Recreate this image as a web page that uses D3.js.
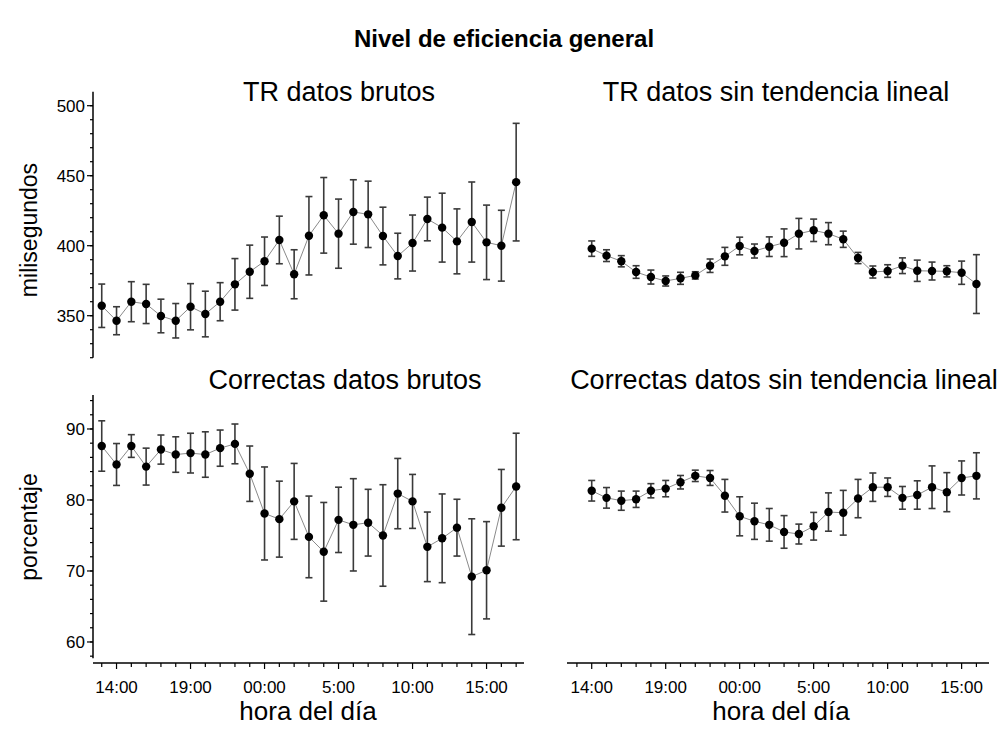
<!DOCTYPE html>
<html>
<head>
<meta charset="utf-8">
<script src="https://cdn.jsdelivr.net/npm/d3@7"></script>
<style>
  body { margin: 0; background: #fff; }
  text { font-family: "Liberation Sans", Arial, sans-serif; fill: #000; }
</style>
</head>
<body>
<div id="chart"></div>
<script>
// hour index 0 = 13:00 ... 28 = 17:00 (next day)
const hoursRaw = d3.range(0, 29);
const hoursDetr = d3.range(1, 28);
const tickLabels = [
  {i: 1, label: "14:00"}, {i: 6, label: "19:00"}, {i: 11, label: "00:00"},
  {i: 16, label: "5:00"}, {i: 21, label: "10:00"}, {i: 26, label: "15:00"}
];

const trRaw = [357.1, 346.4, 360, 358.4, 349.8, 346.4, 356.4, 351.2, 360, 372.4, 381.4, 388.9, 404.1,
  379.6, 407.1, 421.7, 408.6, 424.1, 422.4, 406.9, 392.6, 401.9, 419.1, 412.9, 403.1, 416.9, 402.4, 400, 445.4];
const trRawErr = [15.5, 10, 14.3, 14, 12, 12.3, 16.5, 16.3, 13.6, 18.4, 19, 17.3, 17,
  17.5, 28, 27, 24.7, 23, 23.7, 20.6, 16.3, 20, 15.6, 24.6, 23.2, 28.6, 26.6, 25.3, 42];

const trDetr = [397.9, 392.9, 388.9, 381.2, 377.6, 374.8, 376.7, 378.8, 385.7, 392.4, 399.8, 396.2, 399.3,
  402.1, 408.6, 411, 408.6, 404.6, 391.2, 381.2, 381.9, 385.7, 382.1, 381.9, 381.7, 380.7, 372.6];
const trDetrErr = [5.5, 4.2, 4, 4.5, 5, 3.6, 4.3, 2.6, 4.8, 6.4, 6.3, 5, 7,
  9.9, 10.9, 8, 7.9, 5.8, 4, 4.3, 4.5, 5.6, 7.6, 6.4, 4, 8.3, 21];

const corRaw = [87.6, 85, 87.6, 84.7, 87.1, 86.4, 86.6, 86.4, 87.3, 87.9, 83.7, 78.1, 77.3,
  79.8, 74.8, 72.7, 77.2, 76.5, 76.8, 75, 80.9, 79.8, 73.4, 74.6, 76.1, 69.2, 70.1, 78.9, 81.9];
const corRawErr = [3.55, 2.95, 1.6, 2.6, 2.05, 2.5, 2.8, 3.2, 2.55, 2.8, 3.9, 6.55, 5.35,
  5.35, 5.75, 6.95, 4.6, 6.5, 4.7, 7.15, 4.95, 3.8, 4.9, 6.25, 4, 8.15, 6.85, 5.4, 7.5];

const corDetr = [81.3, 80.3, 79.9, 80.1, 81.3, 81.6, 82.5, 83.4, 83.1, 80.6, 77.7, 77, 76.5,
  75.5, 75.2, 76.3, 78.3, 78.2, 80.2, 81.8, 81.8, 80.3, 80.7, 81.8, 81.1, 83.1, 83.4];
const corDetrErr = [1.45, 1.45, 1.35, 1.15, 1, 1.15, 0.95, 0.8, 1.05, 2.3, 2.75, 2.55, 2.3,
  2.3, 1.4, 1.95, 2.7, 3.15, 2.7, 2, 1.3, 1.6, 2, 3, 2.75, 2.4, 3.25];

const svg = d3.select("#chart").append("svg")
  .attr("width", 1008)
  .attr("height", 737);

// scales
const xLeft = d3.scaleLinear().domain([-0.59, 28.53]).range([93, 524]);
const xRight = d3.scaleLinear().domain([-0.67, 27.85]).range([567, 989]);
const yTR = d3.scaleLinear().domain([320, 510]).range([357.7, 91.7]);
const yCor = d3.scaleLinear().domain([57.7, 94.8]).range([658.3, 394.9]);

// main title
svg.append("text")
  .attr("x", 504).attr("y", 47)
  .attr("text-anchor", "middle")
  .style("font-size", "24px")
  .style("font-weight", "bold")
  .text("Nivel de eficiencia general");

function drawSeries(x, y, hours, vals, errs) {
  const g = svg.append("g");
  const pts = hours.map((h, k) => ({h: h, v: vals[k], e: errs[k]}));

  g.append("path")
    .datum(pts)
    .attr("fill", "none")
    .attr("stroke", "#8a8a8a")
    .attr("stroke-width", 1)
    .attr("d", d3.line().x(d => x(d.h)).y(d => y(d.v)));

  const bars = g.selectAll("g.err")
    .data(pts)
    .enter()
    .append("g")
    .attr("class", "err")
    .attr("stroke", "#3a3a3a")
    .attr("stroke-width", 1.6);

  bars.append("line")
    .attr("x1", d => x(d.h)).attr("x2", d => x(d.h))
    .attr("y1", d => y(d.v + d.e)).attr("y2", d => y(d.v - d.e));
  bars.append("line")
    .attr("x1", d => x(d.h) - 3.5).attr("x2", d => x(d.h) + 3.5)
    .attr("y1", d => y(d.v + d.e)).attr("y2", d => y(d.v + d.e));
  bars.append("line")
    .attr("x1", d => x(d.h) - 3.5).attr("x2", d => x(d.h) + 3.5)
    .attr("y1", d => y(d.v - d.e)).attr("y2", d => y(d.v - d.e));

  g.selectAll("circle")
    .data(pts)
    .enter()
    .append("circle")
    .attr("cx", d => x(d.h))
    .attr("cy", d => y(d.v))
    .attr("r", 4.2)
    .attr("fill", "#000");
}

function yAxis(y, majors, minorStep) {
  const g = svg.append("g").attr("transform", `translate(${xLeft.range()[0]},0)`);
  const [lo, hi] = y.domain();
  g.append("line")
    .attr("x1", 0).attr("x2", 0)
    .attr("y1", y(lo)).attr("y2", y(hi))
    .attr("stroke", "#000").attr("stroke-width", 1.5);
  const minors = d3.range(Math.ceil(lo / minorStep) * minorStep, hi, minorStep);
  g.selectAll("line.minor")
    .data(minors)
    .enter().append("line")
    .attr("class", "minor")
    .attr("x1", -3).attr("x2", 0)
    .attr("y1", d => y(d)).attr("y2", d => y(d))
    .attr("stroke", "#000").attr("stroke-width", 1.2);
  g.selectAll("line.major")
    .data(majors)
    .enter().append("line")
    .attr("class", "major")
    .attr("x1", -6).attr("x2", 0)
    .attr("y1", d => y(d)).attr("y2", d => y(d))
    .attr("stroke", "#000").attr("stroke-width", 1.2);
  g.selectAll("text")
    .data(majors)
    .enter().append("text")
    .attr("x", -8)
    .attr("y", d => y(d))
    .attr("dy", "0.36em")
    .attr("text-anchor", "end")
    .style("font-size", "17px")
    .text(d => d);
}

function xAxis(x, yPos, hours, labelX) {
  const g = svg.append("g").attr("transform", `translate(0,${yPos})`);
  g.append("line")
    .attr("x1", x.range()[0]).attr("x2", x.range()[1])
    .attr("y1", 0).attr("y2", 0)
    .attr("stroke", "#000").attr("stroke-width", 1.5);
  const majorSet = new Set(tickLabels.map(d => d.i));
  g.selectAll("line.tick")
    .data(hours)
    .enter().append("line")
    .attr("class", "tick")
    .attr("x1", d => x(d)).attr("x2", d => x(d))
    .attr("y1", 0).attr("y2", d => majorSet.has(d) ? 6 : 4)
    .attr("stroke", "#000").attr("stroke-width", 1.2);
  g.selectAll("text")
    .data(tickLabels)
    .enter().append("text")
    .attr("x", d => x(d.i))
    .attr("y", 30)
    .attr("text-anchor", "middle")
    .style("font-size", "17px")
    .text(d => d.label);
  g.append("text")
    .attr("x", labelX)
    .attr("y", 57)
    .attr("text-anchor", "middle")
    .style("font-size", "26px")
    .text("hora del día");
}

function panelTitle(x, yPos, txt) {
  svg.append("text")
    .attr("x", x).attr("y", yPos)
    .attr("text-anchor", "middle")
    .style("font-size", "27px")
    .text(txt);
}

panelTitle(339, 101, "TR datos brutos");
panelTitle(776, 101, "TR datos sin tendencia lineal");
panelTitle(345, 389, "Correctas datos brutos");
panelTitle(784, 389, "Correctas datos sin tendencia lineal");

yAxis(yTR, [350, 400, 450, 500], 10);
yAxis(yCor, [60, 70, 80, 90], 2);

xAxis(xLeft, 663, d3.range(0, 29), 308);
xAxis(xRight, 663, d3.range(0, 28), 781);

// y labels
svg.append("text")
  .attr("transform", "translate(37,230) rotate(-90)")
  .attr("text-anchor", "middle")
  .style("font-size", "23px")
  .text("milisegundos");
svg.append("text")
  .attr("transform", "translate(37,527) rotate(-90)")
  .attr("text-anchor", "middle")
  .style("font-size", "23px")
  .text("porcentaje");

drawSeries(xLeft, yTR, hoursRaw, trRaw, trRawErr);
drawSeries(xRight, yTR, hoursDetr, trDetr, trDetrErr);
drawSeries(xLeft, yCor, hoursRaw, corRaw, corRawErr);
drawSeries(xRight, yCor, hoursDetr, corDetr, corDetrErr);
</script>
</body>
</html>
